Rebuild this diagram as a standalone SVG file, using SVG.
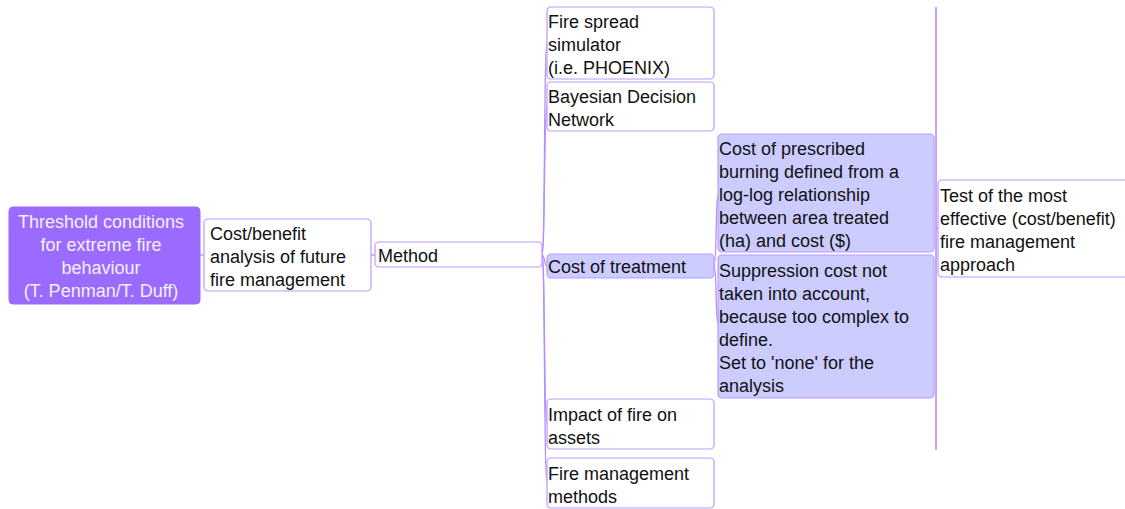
<svg xmlns="http://www.w3.org/2000/svg" width="1125" height="509" viewBox="0 0 1125 509">
<style>
.box{fill:#ffffff;stroke:#b99cff;stroke-width:1.2}
.sel{fill:#ccccff;stroke:#b99cff;stroke-width:1.2}
.root{fill:#9b6bff;stroke:#9b6bff;stroke-width:1}
.t{font-family:"Liberation Sans",Arial,sans-serif;font-size:18px;fill:#111111}
.rt{font-family:"Liberation Sans",Arial,sans-serif;font-size:18px;fill:#f4f0ff;text-anchor:middle}
.c{fill:none;stroke:#b490ff;stroke-width:1.3}
</style>
<rect width="1125" height="509" fill="#ffffff"/>
<g id="connectors">
<path class="c" d="M200,255 L204,255"/>
<path class="c" d="M371,255 L375,255"/>
<path class="c" d="M542,255 C545,255 544,43 547,43"/>
<path class="c" d="M542,255 C545,255 544,106 547,106"/>
<path class="c" d="M542,255 C545,255 544,266 547,266"/>
<path class="c" d="M542,255 C545,255 544,424 547,424"/>
<path class="c" d="M542,255 C545,255 544,483 547,483"/>
<path class="c" d="M714,266 C717,266 715,193 719,193"/>
<path class="c" d="M714,266 C717,266 715,326 719,326"/>
<path class="c" d="M936,7 L936,450" style="stroke-width:1.6"/>
<path class="c" d="M936,228 L939,228"/>
</g>
<g id="root">
<rect class="root" x="9" y="207" width="191" height="97" rx="4"/>
<text class="rt" x="101" y="228">Threshold conditions</text>
<text class="rt" x="101" y="251">for extreme fire</text>
<text class="rt" x="101" y="274">behaviour</text>
<text class="rt" x="101" y="297">(T. Penman/T. Duff)</text>
</g>
<g id="costbenefit">
<rect class="box" x="204" y="219" width="167" height="72" rx="4"/>
<text class="t" x="210" y="240">Cost/benefit</text>
<text class="t" x="210" y="263">analysis of future</text>
<text class="t" x="210" y="286">fire management</text>
</g>
<g id="method">
<rect class="box" x="375" y="242" width="167" height="25" rx="4"/>
<text class="t" x="378" y="262">Method</text>
</g>
<g id="firespread">
<rect class="box" x="547" y="7" width="167" height="72" rx="4"/>
<text class="t" x="548" y="28">Fire spread</text>
<text class="t" x="548" y="51">simulator</text>
<text class="t" x="548" y="74">(i.e. PHOENIX)</text>
</g>
<g id="bayesian">
<rect class="box" x="547" y="82" width="167" height="49" rx="4"/>
<text class="t" x="548" y="103">Bayesian Decision</text>
<text class="t" x="548" y="126">Network</text>
</g>
<g id="costtreatment">
<rect class="sel" x="547" y="254" width="167" height="24" rx="4"/>
<text class="t" x="548" y="273">Cost of treatment</text>
</g>
<g id="impact">
<rect class="box" x="547" y="399" width="167" height="50" rx="4"/>
<text class="t" x="548" y="421">Impact of fire on</text>
<text class="t" x="548" y="444">assets</text>
</g>
<g id="firemgmt">
<rect class="box" x="547" y="458" width="167" height="50" rx="4"/>
<text class="t" x="548" y="480">Fire management</text>
<text class="t" x="548" y="503">methods</text>
</g>
<g id="prescribed">
<rect class="sel" x="718" y="134" width="216" height="118" rx="4"/>
<text class="t" x="719" y="155">Cost of prescribed</text>
<text class="t" x="719" y="178">burning defined from a</text>
<text class="t" x="719" y="201">log-log relationship</text>
<text class="t" x="719" y="224">between area treated</text>
<text class="t" x="719" y="247">(ha) and cost ($)</text>
</g>
<g id="suppression">
<rect class="sel" x="718" y="255" width="216" height="143" rx="4"/>
<text class="t" x="719" y="277">Suppression cost not</text>
<text class="t" x="719" y="300">taken into account,</text>
<text class="t" x="719" y="323">because too complex to</text>
<text class="t" x="719" y="346">define.</text>
<text class="t" x="719" y="369">Set to 'none' for the</text>
<text class="t" x="719" y="392">analysis</text>
</g>
<g id="test">
<rect class="box" x="938" y="180" width="200" height="97" rx="4"/>
<text class="t" x="940" y="202">Test of the most</text>
<text class="t" x="940" y="225">effective (cost/benefit)</text>
<text class="t" x="940" y="248">fire management</text>
<text class="t" x="940" y="271">approach</text>
</g>
</svg>
